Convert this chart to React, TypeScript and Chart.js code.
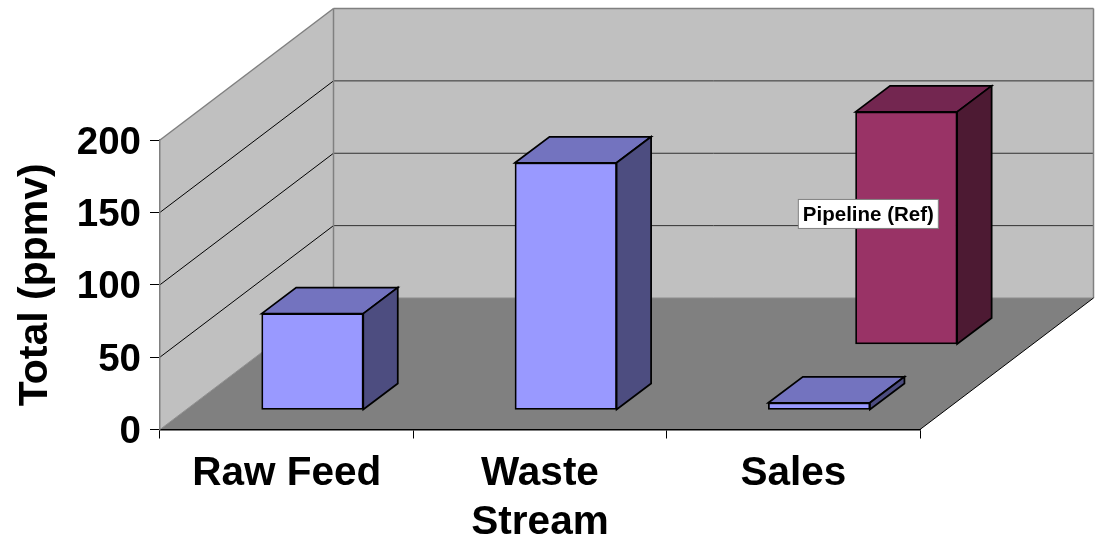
import React, { useEffect, useRef } from "react";
import { Chart, registerables } from "chart.js";

Chart.register(...registerables);

const categories = ["Raw Feed", ["Waste", "Stream"], "Sales"];
const streamValues = [66.6, 170.8, 5];
const pipelineValues = [null, null, 160.7];
const pipelineLabel = "Pipeline (Ref)";
const yTitle = "Total (ppmv)";

const FONT = "'Liberation Sans', Arial, sans-serif";
const WALL_DX = 173.5;
const WALL_DY = -131.5;
const BAR_DX = 34.5;
const BAR_DY = -26;
const seriesShift = [
  { dx: 25.8, dy: -19.5 },
  { dx: 113, dy: -85 },
];
const topColors = ["#7373bf", "#732650"];
const sideColors = ["#4d4d80", "#4d1a33"];

const poly = (ctx: any, pts: number[][], fill: string | null, stroke: string | null, lw = 1) => {
  ctx.beginPath();
  pts.forEach((p, i) => (i ? ctx.lineTo(p[0], p[1]) : ctx.moveTo(p[0], p[1])));
  ctx.closePath();
  if (fill) {
    ctx.fillStyle = fill;
    ctx.fill();
  }
  if (stroke) {
    ctx.strokeStyle = stroke;
    ctx.lineWidth = lw;
    ctx.stroke();
  }
};

const line = (ctx: any, a: number[], b: number[], color: string, lw: number) => {
  ctx.beginPath();
  ctx.moveTo(a[0], a[1]);
  ctx.lineTo(b[0], b[1]);
  ctx.strokeStyle = color;
  ctx.lineWidth = lw;
  ctx.stroke();
};

const wallsPlugin = {
  id: "walls",
  beforeDraw(chart: any) {
    const { ctx, chartArea: a, scales } = chart;
    const y = scales.y;
    const L = a.left, R = a.right, T = y.getPixelForValue(200), B = y.getPixelForValue(0);
    ctx.save();
    ctx.fillStyle = "#ffffff";
    ctx.fillRect(0, 0, chart.width, chart.height);
    // back wall
    poly(ctx, [[L + WALL_DX, T + WALL_DY], [R + WALL_DX, T + WALL_DY], [R + WALL_DX, B + WALL_DY], [L + WALL_DX, B + WALL_DY]], "#c0c0c0", null);
    // side wall
    poly(ctx, [[L, B], [L + WALL_DX, B + WALL_DY], [L + WALL_DX, T + WALL_DY], [L, T]], "#c0c0c0", null);
    // floor
    poly(ctx, [[L, B], [L + WALL_DX, B + WALL_DY], [R + WALL_DX, B + WALL_DY], [R, B]], "#808080", null);
    // gridlines from the scale
    y.ticks.forEach((t: any) => {
      if (t.value === 0) return;
      const py = y.getPixelForValue(t.value);
      const isTop = t.value === 200;
      line(ctx, [L, py], [L + WALL_DX, py + WALL_DY], isTop ? "#808080" : "#000000", isTop ? 1.5 : 1);
      line(ctx, [L + WALL_DX, py + WALL_DY], [R + WALL_DX, py + WALL_DY], isTop ? "#808080" : "#303030", isTop ? 1.5 : 1);
    });
    // wall edges
    line(ctx, [L + WALL_DX, T + WALL_DY], [L + WALL_DX, B + WALL_DY], "#808080", 1.5);
    line(ctx, [R + WALL_DX, T + WALL_DY], [R + WALL_DX, B + WALL_DY], "#808080", 1.5);
    line(ctx, [L, B], [L + WALL_DX, B + WALL_DY], "#909090", 1);
    line(ctx, [L + WALL_DX, B + WALL_DY], [R + WALL_DX, B + WALL_DY], "#8c8c8c", 1);
    line(ctx, [R, B], [R + WALL_DX, B + WALL_DY], "#000000", 1);
    ctx.restore();
  },
  beforeDatasetDraw(chart: any, args: any) {
    const { ctx } = chart;
    const i = args.index;
    const s = seriesShift[i];
    ctx.save();
    ctx.translate(s.dx, s.dy);
    chart.getDatasetMeta(i).data.forEach((el: any, k: number) => {
      if (chart.data.datasets[i].data[k] == null) return;
      const p = el.getProps(["x", "y", "base", "width"], true);
      const x0 = p.x - p.width / 2, x1 = p.x + p.width / 2;
      poly(ctx, [[x0, p.y], [x0 + BAR_DX, p.y + BAR_DY], [x1 + BAR_DX, p.y + BAR_DY], [x1, p.y]], topColors[i], "#000000", 1.75);
      poly(ctx, [[x1, p.y], [x1 + BAR_DX, p.y + BAR_DY], [x1 + BAR_DX, p.base + BAR_DY], [x1, p.base]], sideColors[i], "#000000", 1.75);
    });
  },
  afterDatasetDraw(chart: any) {
    chart.ctx.restore();
  },
  afterDatasetsDraw(chart: any) {
    const { ctx } = chart;
    const el = chart.getDatasetMeta(1).data[2];
    const s = seriesShift[1];
    const p = el.getProps(["x", "y", "base"], true);
    const cx = p.x + s.dx - 38;
    const cy = (p.y + p.base) / 2 + s.dy - 14;
    ctx.save();
    ctx.font = `bold 20.5px ${FONT}`;
    ctx.textAlign = "center";
    ctx.textBaseline = "middle";
    const w = 140, h = 29;
    ctx.fillStyle = "#ffffff";
    ctx.fillRect(cx - w / 2, cy - h / 2, w, h);
    ctx.strokeStyle = "#808080";
    ctx.lineWidth = 1;
    ctx.strokeRect(cx - w / 2, cy - h / 2, w, h);
    ctx.fillStyle = "#000000";
    ctx.fillText(pipelineLabel, cx, cy + 1);
    ctx.restore();
  },
};

export default function App() {
  const ref = useRef<HTMLCanvasElement>(null);
  useEffect(() => {
    const common = { borderColor: "#000000", borderWidth: 1.75, borderSkipped: false, barThickness: 101.6, grouped: false, clip: false };
    const chart = new Chart(ref.current as any, {
      type: "bar",
      data: {
        labels: categories as any,
        datasets: [
          { label: "Total", data: streamValues, backgroundColor: "#9999ff", ...common } as any,
          { label: pipelineLabel, data: pipelineValues, backgroundColor: "#993366", ...common } as any,
        ],
      },
      options: {
        animation: false,
        responsive: false,
        devicePixelRatio: 1,
        events: [],
        layout: { padding: { top: 140, right: 176, left: 0, bottom: 0 } },
        plugins: { legend: { display: false }, tooltip: { enabled: false } },
        scales: {
          x: {
            afterFit: (s: any) => { s.height = 110.5; },
            border: { color: "#000000", width: 1.5 },
            grid: { drawOnChartArea: false, color: "#000000", tickLength: 9, tickWidth: 1 },
            ticks: { color: "#000000", font: { family: FONT, size: 40.5, weight: "bold", lineHeight: 1.21 }, padding: 11, maxRotation: 0, autoSkip: false },
          },
          y: {
            min: 0,
            max: 200,
            afterFit: (s: any) => { s.width = 160; },
            border: { color: "#808080", width: 1.5 },
            grid: { drawOnChartArea: false, color: "#000000", tickLength: 10, tickWidth: 1 },
            ticks: { stepSize: 50, color: "#000000", font: { family: FONT, size: 38.5, weight: "bold" }, padding: 9, labelOffset: 3 },
            title: { display: true, text: yTitle, color: "#000000", font: { family: FONT, size: 41, weight: "bold" }, padding: { top: 11, bottom: 0 } },
          },
        },
      },
      plugins: [wallsPlugin],
    } as any);
    return () => chart.destroy();
  }, []);
  return <canvas ref={ref} width={1096} height={540} style={{ position: "fixed", left: 0, top: 0, display: "block" }} />;
}
